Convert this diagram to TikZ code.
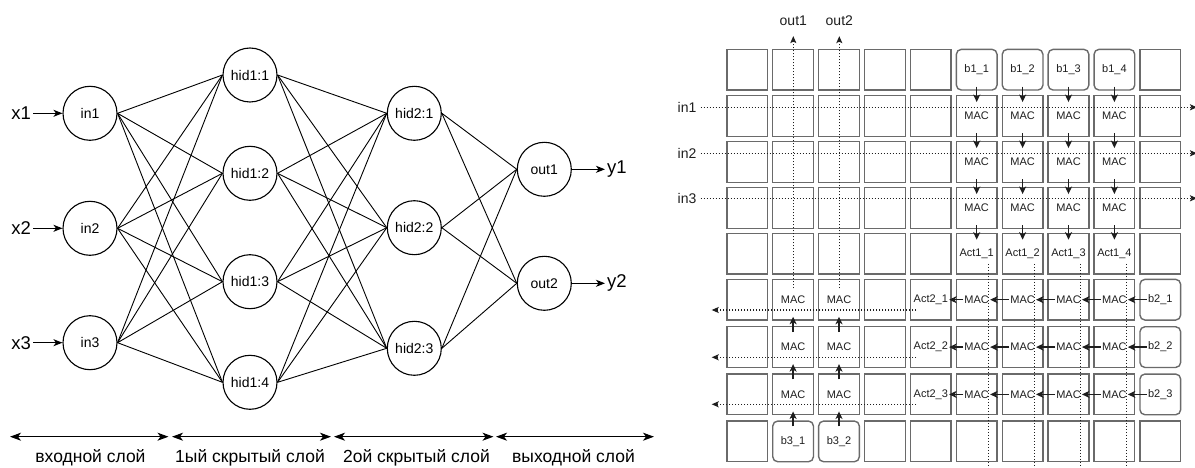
\documentclass[tikz,border=0pt]{standalone}
\usepackage{fontspec}
\setmainfont{Liberation Sans}
\usetikzlibrary{arrows.meta,calc}

\definecolor{cellgray}{HTML}{6A6A6A}
\definecolor{inkdark}{HTML}{1E1E1E}

\begin{document}
\begin{tikzpicture}[x=1pt,y=-1pt,
  neuron/.style={circle,draw,line width=1.1pt,minimum size=54pt,inner sep=0pt,
                 font=\fontsize{14}{16}\selectfont},
  synapse/.style={line width=0.9pt},
  feedarrow/.style={line width=1.2pt,-{Stealth[length=9pt,width=7pt,inset=2.5pt]}},
  signame/.style={font=\fontsize{18.5}{20}\selectfont,inner sep=2pt},
  spanarrow/.style={line width=1.1pt,
     {Stealth[length=11pt,width=8pt,inset=3pt]}-{Stealth[length=11pt,width=8pt,inset=3pt]}},
  layername/.style={font=\fontsize{17.5}{19}\selectfont,inner sep=0pt},
  gridcell/.style={draw=cellgray,line width=1.4pt,minimum size=40.7pt,inner sep=0pt},
  biascell/.style={gridcell,rounded corners=5pt},
  celltxt/.style={font=\fontsize{11}{13}\selectfont,inner sep=1pt,text=inkdark},
  flowarrow/.style={line width=1.3pt,draw=inkdark,-{Stealth[length=7.5pt,width=7pt,inset=2pt]}},
  busline/.style={line width=1.2pt,draw=inkdark,dash pattern=on 1.2pt off 1.8pt},
  busarrow/.style={busline,-{Stealth[length=7pt,width=6pt,inset=1.5pt]}},
  portname/.style={font=\fontsize{14}{16}\selectfont,inner sep=4pt,text=inkdark}
]
\useasboundingbox (0,0) rectangle (1195,468);

% ---------------- fully connected network ----------------
\node[neuron] (in1) at (90,113.3) {in1};
\node[neuron] (in2) at (90,228.3) {in2};
\node[neuron] (in3) at (90,342.7) {in3};

\node[neuron] (h1-1) at (250,75)    {hid1:1};
\node[neuron] (h1-2) at (250,173.3) {hid1:2};
\node[neuron] (h1-3) at (250,281.7) {hid1:3};
\node[neuron] (h1-4) at (250,382.3) {hid1:4};

\node[neuron] (h2-1) at (414.3,113.3) {hid2:1};
\node[neuron] (h2-2) at (414.3,227.7) {hid2:2};
\node[neuron] (h2-3) at (414.3,348.3) {hid2:3};

\node[neuron] (out1) at (544.3,169.3) {out1};
\node[neuron] (out2) at (544.3,283.3) {out2};

\foreach \a in {in1,in2,in3}
  \foreach \b in {h1-1,h1-2,h1-3,h1-4}
    \draw[synapse] (\a.east) -- (\b.west);
\foreach \a in {h1-1,h1-2,h1-3,h1-4}
  \foreach \b in {h2-1,h2-2,h2-3}
    \draw[synapse] (\a.east) -- (\b.west);
\foreach \a in {h2-1,h2-2,h2-3}
  \foreach \b in {out1,out2}
    \draw[synapse] (\a.east) -- (\b.west);

% inputs and outputs
\foreach \i in {1,2,3} {
  \node[signame,anchor=east] (x\i) at (33,0 |- in\i) {x\i};
  \draw[feedarrow] (x\i.east) -- (in\i.west);
}
\foreach \i in {1,2} {
  \node[signame,anchor=west] (y\i) at (605,0 |- out\i) {y\i};
  \draw[feedarrow] (out\i.east) -- (y\i.west);
}

% layer extents
\coordinate (s0) at (10,436.7);    \coordinate (s1) at (168.5,436.7);
\coordinate (s2) at (172,436.7);   \coordinate (s3) at (331,436.7);
\coordinate (s4) at (334,436.7);   \coordinate (s5) at (493.5,436.7);
\coordinate (s6) at (496,436.7);   \coordinate (s7) at (654,436.7);
\draw[spanarrow] (s0) -- (s1);
\draw[spanarrow] (s2) -- (s3);
\draw[spanarrow] (s4) -- (s5);
\draw[spanarrow] (s6) -- (s7);
\node[layername] (l1) at (90.5,458)  {входной слой};
\node[layername] (l2) at (250,458)   {1ый скрытый слой};
\node[layername] (l3) at (416.5,458) {2ой скрытый слой};
\node[layername] (l4) at (573.5,458) {выходной слой};

% ---------------- systolic array ----------------
\foreach \rw/\y in {0/69.7,1/116.1,2/162.1,3/208.1,4/253.7,5/299.7,6/347.1,7/394.4,8/441.4} {
  \foreach \cl in {0,...,9} {
    \pgfmathsetmacro\x{747.2+45.9*\cl}
    \pgfmathtruncatemacro\rnd{((\rw==0)&&(\cl>=5)&&(\cl<=8)) || ((\cl==9)&&(\rw>=5)&&(\rw<=7)) || ((\rw==8)&&(\cl>=1)&&(\cl<=2))}
    \ifnum\rnd=1
      \node[biascell] (cell-\rw-\cl) at (\x,\y) {};
    \else
      \node[gridcell] (cell-\rw-\cl) at (\x,\y) {};
    \fi
  }
}

% cell contents
\foreach \cl/\i in {5/1,6/2,7/3,8/4} {
  \node[celltxt] (tb1-\i) at (cell-0-\cl) {b1\_\i};
  \foreach \rw in {1,2,3,5,6,7}
    \node[celltxt] (m-\rw-\cl) at (cell-\rw-\cl) {MAC};
  \node[celltxt] (a1-\i) at (cell-4-\cl) {Act1\_\i};
}
\foreach \rw/\i in {5/1,6/2,7/3} {
  \node[celltxt] (a2-\i) at (cell-\rw-4) {Act2\_\i};
  \node[celltxt] (tb2-\i) at (cell-\rw-9) {b2\_\i};
  \foreach \cl in {1,2}
    \node[celltxt] (m-\rw-\cl) at (cell-\rw-\cl) {MAC};
}
\foreach \cl/\i in {1/1,2/2}
  \node[celltxt] (tb3-\i) at (cell-8-\cl) {b3\_\i};

% first layer: partial sums flow downwards
\foreach \cl in {5,...,8}
  \foreach \rw/\nx in {0/1,1/2,2/3,3/4}
    \draw[flowarrow] ([yshift=4pt]cell-\rw-\cl.south) -- ([yshift=-7pt]cell-\nx-\cl.north);

% second layer: partial sums flow to the left
\foreach \rw/\i in {5/1,6/2,7/3} {
  \draw[flowarrow] (tb2-\i.west) -- (m-\rw-8.east);
  \foreach \cl/\pv in {8/7,7/6,6/5}
    \draw[flowarrow] (m-\rw-\cl.west) -- (m-\rw-\pv.east);
  \draw[flowarrow] (m-\rw-5.west) -- (a2-\i.east);
}

% output layer: partial sums flow upwards
\foreach \cl in {1,2}
  \foreach \rw/\nx in {8/7,7/6,6/5}
    \draw[flowarrow] ([yshift=-6pt]cell-\rw-\cl.north) -- ([yshift=4pt]cell-\nx-\cl.south);

% input buses
\foreach \i/\y in {1/107.3,2/153.3,3/198.3} {
  \node[portname] (pin\i) at (687,\y) {in\i};
  \coordinate (rin\i) at (1197,\y);
  \draw[busarrow] (pin\i.east) -- (rin\i);
}

% output buses
\foreach \i/\x in {1/793.3,2/839.3} {
  \node[portname] (pout\i) at (\x,21) {out\i};
  \coordinate (bo\i) at (\x,288.3);
  \draw[busarrow] (bo\i) -- ([yshift=-6pt]pout\i.south);
}

% second-layer activations leave to the left
\foreach \i/\y in {1/310,2/357.3,3/404.3} {
  \coordinate (qs\i) at (916,\y);
  \coordinate (qe\i) at (711.7,\y);
  \draw[busarrow] (qs\i) -- (qe\i);
}

% first-layer activations run down the columns
\foreach \i in {1,...,4}
  \draw[busline] ([xshift=11.8pt,yshift=-4pt]a1-\i.south) -- ++(0,215);
\end{tikzpicture}
\end{document}
